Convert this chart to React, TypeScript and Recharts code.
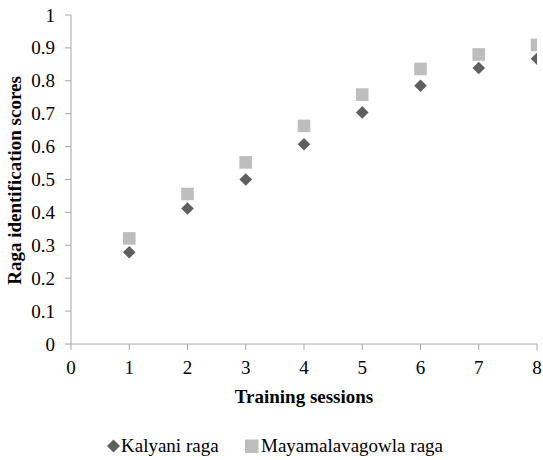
import React from 'react';
import { ScatterChart, Scatter, XAxis, YAxis, Legend } from 'recharts';

const sessions = [1, 2, 3, 4, 5, 6, 7, 8];
const kalyani = [0.279, 0.412, 0.5, 0.607, 0.704, 0.785, 0.839, 0.867];
const mayamalavagowla = [0.321, 0.456, 0.552, 0.663, 0.758, 0.836, 0.88, 0.909];
const xTicks = [0, 1, 2, 3, 4, 5, 6, 7, 8];
const yTicks = [0, 0.1, 0.2, 0.3, 0.4, 0.5, 0.6, 0.7, 0.8, 0.9, 1];
const seriesNames = ['Kalyani raga', 'Mayamalavagowla raga'];

const kalyaniData = sessions.map((s, i) => ({ x: s, y: kalyani[i] }));
const mayaData = sessions.map((s, i) => ({ x: s, y: mayamalavagowla[i] }));

const FONT = '"Liberation Serif", "Times New Roman", serif';
const AXIS = '#a6a6a6';
const DARK = '#5f5f5f';
const LIGHT = '#bdbdbd';
const txt = { fontFamily: FONT, fontSize: 19, fill: '#000' } as const;

const Diamond = (props: any) => {
  const { cx, cy } = props;
  const r = 6.3;
  return <path d={`M${cx},${cy - r}L${cx + r},${cy}L${cx},${cy + r}L${cx - r},${cy}Z`} fill={DARK} />;
};
const Square = (props: any) => {
  const { cx, cy } = props;
  const h = 6.3;
  return <rect x={cx - h} y={cy - h} width={2 * h} height={2 * h} fill={LIGHT} />;
};

const XTick = (props: any) => {
  const { x, y, payload } = props;
  return (
    <text x={x} y={y + 13} textAnchor="middle" style={txt}>
      {String(payload.value)}
    </text>
  );
};
const YTick = (props: any) => {
  const { x, y, payload } = props;
  return (
    <text x={x} y={y + 6.5} textAnchor="end" style={txt}>
      {String(Math.round(payload.value * 10) / 10)}
    </text>
  );
};

const LegendContent = () => (
  <div style={{ position: 'relative', width: 543, height: 30 }}>
    <svg width={543} height={30} style={{ position: 'absolute', left: 0, top: 0 }}>
      <path d="M113.5,9.5L120,16L113.5,22.5L107,16Z" fill={DARK} />
      <rect x={245} y={9.5} width={13.5} height={13.5} fill={LIGHT} />
      <text x={121} y={22} style={txt}>{seriesNames[0]}</text>
      <text x={261} y={22} style={txt}>{seriesNames[1]}</text>
    </svg>
  </div>
);

const XTitle = (props: any) => {
  const vb = props.viewBox;
  return (
    <text x={vb.x + vb.width / 2} y={vb.y + 59} textAnchor="middle" style={{ ...txt, fontWeight: 'bold' }}>
      Training sessions
    </text>
  );
};
const YTitle = (props: any) => {
  const vb = props.viewBox;
  const cx = 14;
  const cy = vb.y + vb.height / 2 + 1;
  return (
    <text x={cx} y={cy} transform={`rotate(-90, ${cx}, ${cy})`} textAnchor="middle" dominantBaseline="central" style={{ ...txt, fontWeight: 'bold' }}>
      Raga identification scores
    </text>
  );
};

export default function App() {
  return (
    <div style={{ position: 'absolute', left: 0, top: 0, width: 543, height: 460, background: '#fff', fontFamily: FONT }}>
      <ScatterChart width={543} height={460} margin={{ top: 15, right: 6, left: 0, bottom: 0 }}>
        <XAxis
          type="number"
          dataKey="x"
          domain={[0, 8]}
          ticks={xTicks}
          interval={0}
          allowDataOverflow
          height={86}
          stroke={AXIS}
          tickSize={6}
          tickMargin={11}
          tick={<XTick />}
          tickLine={{ stroke: AXIS }}
          label={<XTitle />}
        />
        <YAxis
          type="number"
          dataKey="y"
          domain={[0, 1]}
          ticks={yTicks}
          interval={0}
          width={71}
          stroke={AXIS}
          tickSize={6}
          tickMargin={10}
          tick={<YTick />}
          tickLine={{ stroke: AXIS }}
          label={<YTitle />}
        />
        <Scatter name={seriesNames[0]} data={kalyaniData} shape={<Diamond />} isAnimationActive={false} />
        <Scatter name={seriesNames[1]} data={mayaData} shape={<Square />} isAnimationActive={false} />
        <Legend verticalAlign="bottom" height={30} content={<LegendContent />} wrapperStyle={{ left: 0, width: 543, height: 30 }} />
      </ScatterChart>
    </div>
  );
}
